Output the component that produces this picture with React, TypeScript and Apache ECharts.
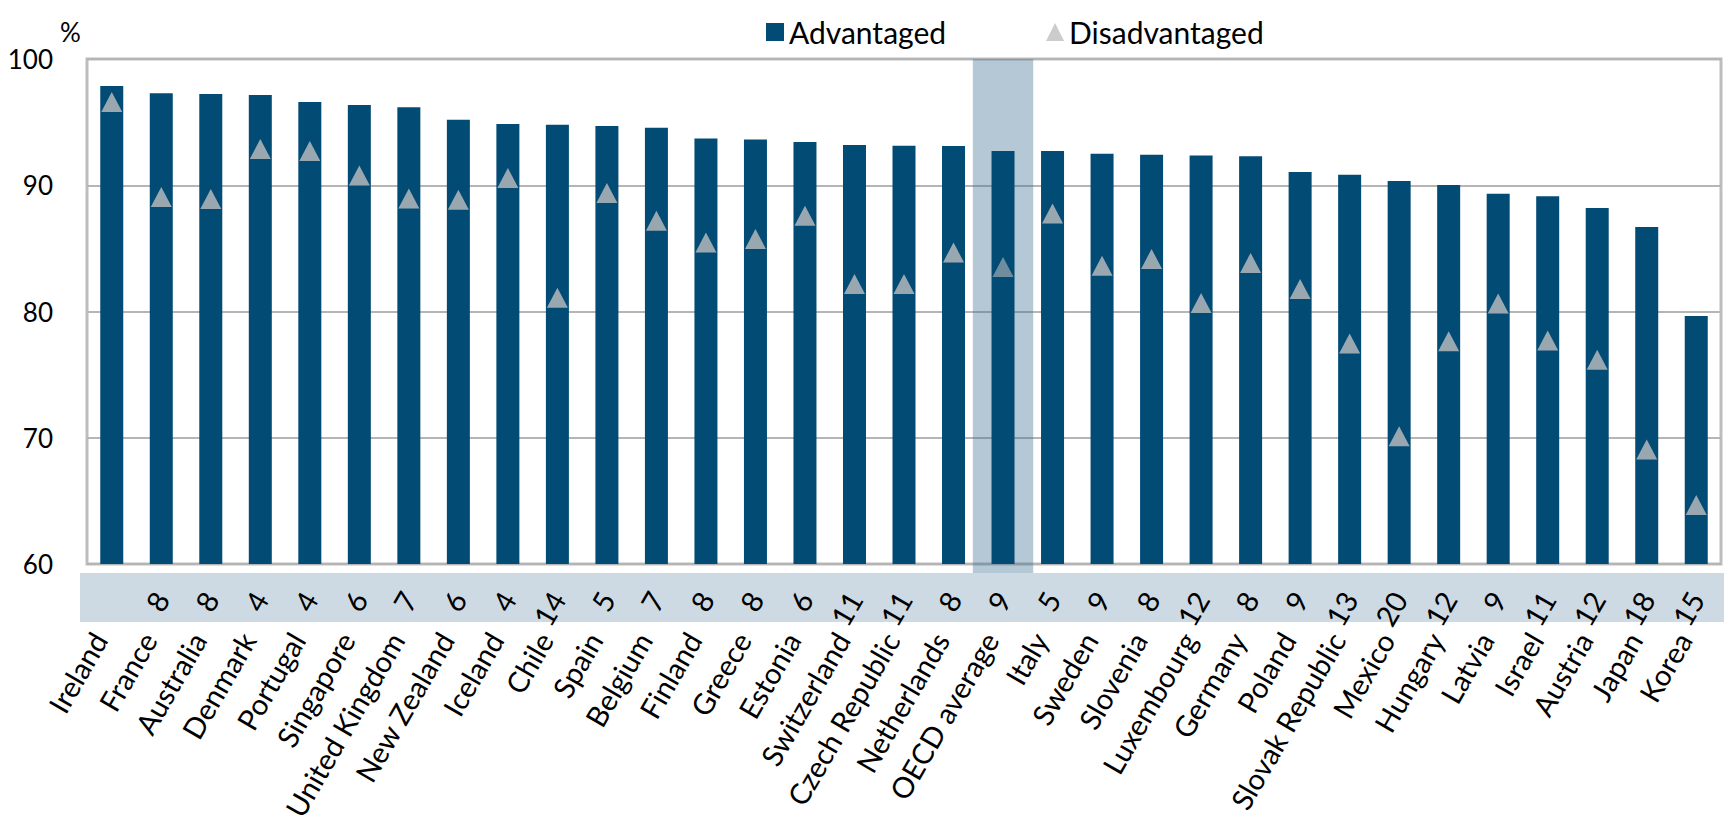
import React, { useEffect, useRef } from "react";
import * as echarts from "echarts";

const categories = [
  "Ireland", "France", "Australia", "Denmark", "Portugal", "Singapore",
  "United Kingdom", "New Zealand", "Iceland", "Chile", "Spain", "Belgium",
  "Finland", "Greece", "Estonia", "Switzerland", "Czech Republic", "Netherlands",
  "OECD average", "Italy", "Sweden", "Slovenia", "Luxembourg", "Germany",
  "Poland", "Slovak Republic", "Mexico", "Hungary", "Latvia", "Israel",
  "Austria", "Japan", "Korea",
];

const advantaged = [
  97.86, 97.28, 97.23, 97.15, 96.59, 96.36, 96.17, 95.19, 94.85, 94.8, 94.69,
  94.56, 93.71, 93.63, 93.43, 93.19, 93.13, 93.11, 92.71, 92.71, 92.5, 92.42,
  92.36, 92.29, 91.05, 90.84, 90.34, 90.02, 89.33, 89.12, 88.2, 86.69, 79.64,
];

const disadvantaged = [
  96.59, 89.07, 88.91, 92.87, 92.71, 90.78, 88.96, 88.86, 90.57, 81.09, 89.39,
  87.19, 85.47, 85.74, 87.59, 82.18, 82.18, 84.68, 83.52, 87.77, 83.63, 84.16,
  80.67, 83.85, 81.78, 77.47, 70.11, 77.65, 80.64, 77.7, 76.17, 69.07, 64.68,
];

// Percentage-point gap between the two groups (blank where not shown)
const gapLabels = [
  "", "8", "8", "4", "4", "6", "7", "6", "4", "14", "5", "7", "8", "8", "6",
  "11", "11", "8", "9", "5", "9", "8", "12", "8", "9", "13", "20", "12", "9",
  "11", "12", "18", "15",
];

const yTicks = { min: 60, max: 100, interval: 10 };
const averageName = "OECD average";

const FONT = 'Lato, "Open Sans", sans-serif';
const BAR_COLOR = "#024b75";
const MARKER_COLOR = "#bfbfbf";
const MARKER_ON_HIGHLIGHT = "#8c9eaa";
const LABEL_ANGLE = 60;

export default function App() {
  const ref = useRef<HTMLDivElement | null>(null);

  useEffect(() => {
    if (!ref.current) return;
    const chart = echarts.init(ref.current, undefined, { renderer: "svg" });

    const option: any = {
      animation: false,
      backgroundColor: "#ffffff",
      textStyle: { fontFamily: FONT },
      legend: {
        left: 761,
        top: 12,
        itemWidth: 18,
        itemHeight: 18,
        itemGap: 100,
        textStyle: { fontFamily: FONT, fontSize: 30, color: "#000" },
        data: [
          { name: "Advantaged", icon: "rect" },
          { name: "Disadvantaged", icon: "triangle" },
        ],
      },
      grid: {
        left: 87,
        right: 8,
        top: 59,
        bottom: 258,
        containLabel: false,
        outerBoundsMode: "none",
        show: true,
        borderColor: "#bdbdbd",
        borderWidth: 3,
        backgroundColor: "transparent",
      },
      xAxis: [
        {
          type: "category",
          data: categories,
          axisLine: { show: false },
          axisTick: { show: false },
          axisLabel: {
            interval: 0,
            rotate: LABEL_ANGLE,
            margin: 78,
            align: "right",
            verticalAlign: "bottom",
            fontFamily: FONT,
            fontSize: 29,
            color: "#000",
          },
        },
        {
          type: "category",
          data: categories,
          position: "bottom",
          axisLine: { show: false },
          axisTick: { show: false },
          splitLine: { show: false },
          axisLabel: {
            interval: 0,
            rotate: LABEL_ANGLE,
            margin: 30,
            fontFamily: FONT,
            fontSize: 29,
            color: "#000",
            formatter: (_v: string, i: number) => gapLabels[i],
          },
        },
      ],
      yAxis: {
        type: "value",
        min: yTicks.min,
        max: yTicks.max,
        interval: yTicks.interval,
        axisLine: { show: false },
        axisTick: { show: false },
        axisLabel: {
          margin: 34,
          fontFamily: FONT,
          fontSize: 26,
          color: "#000",
        },
        splitLine: { lineStyle: { color: "#b5b5b5", width: 2 } },
      },
      series: [
        {
          name: "Advantaged",
          type: "bar",
          xAxisIndex: 0,
          data: advantaged,
          barWidth: 23,
          itemStyle: { color: BAR_COLOR },
          z: 2,
        },
        {
          name: "Disadvantaged",
          type: "scatter",
          xAxisIndex: 0,
          symbol: "triangle",
          symbolSize: [21, 20],
          data: disadvantaged.map((v, i) =>
            categories[i] === averageName
              ? { value: v, itemStyle: { color: MARKER_ON_HIGHLIGHT } }
              : v
          ),
          itemStyle: { color: MARKER_COLOR },
          z: 3,
        },
      ],
    };

    chart.setOption(option);

    // Background band behind the gap row and the highlighted average column
    const firstX = chart.convertToPixel({ xAxisIndex: 0 }, categories[0]) as number;
    const lastX = chart.convertToPixel(
      { xAxisIndex: 0 },
      categories[categories.length - 1]
    ) as number;
    const band = (lastX - firstX) / (categories.length - 1);
    const plotLeft = firstX - band / 2;
    const plotRight = lastX + band / 2;
    const yTop = chart.convertToPixel({ yAxisIndex: 0 }, yTicks.max) as number;
    const yBottom = chart.convertToPixel({ yAxisIndex: 0 }, yTicks.min) as number;
    const avgX = chart.convertToPixel({ xAxisIndex: 0 }, averageName) as number;

    const rowTop = yBottom + 9;
    const rowHeight = 49;
    const hlWidth = band * 1.22;

    chart.setOption({
      graphic: [
        {
          type: "rect",
          z: -10,
          silent: true,
          shape: {
            x: plotLeft - 7,
            y: rowTop,
            width: plotRight - plotLeft + 10,
            height: rowHeight,
          },
          style: { fill: "#cddae3" },
        },
        {
          type: "rect",
          z: 1,
          silent: true,
          shape: {
            x: avgX - hlWidth / 2,
            y: yTop,
            width: hlWidth,
            height: rowTop - yTop,
          },
          style: { fill: "rgba(60,110,145,0.38)" },
        },
        {
          type: "text",
          left: 60,
          top: 19,
          silent: true,
          style: { text: "%", font: `26px ${FONT}`, fill: "#000" },
        },
      ],
    });

    return () => chart.dispose();
  }, []);

  return (
    <div
      ref={ref}
      style={{ position: "fixed", left: 0, top: 0, width: 1729, height: 822 }}
    />
  );
}
